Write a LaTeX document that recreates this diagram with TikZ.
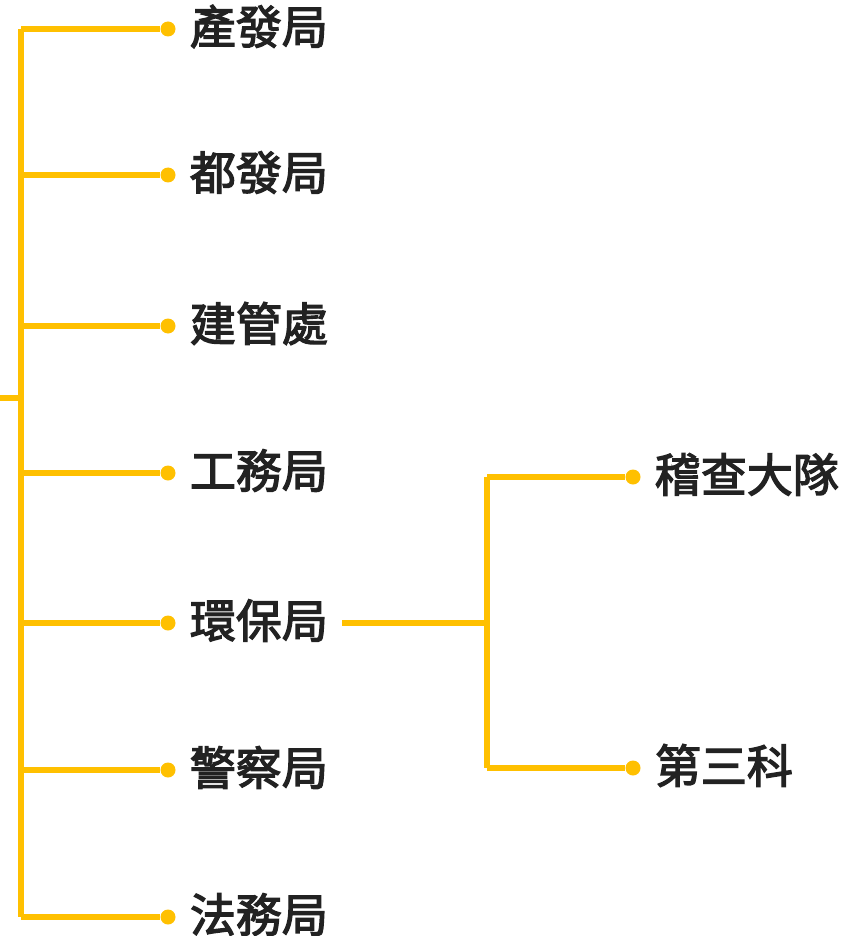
\documentclass[tikz,border=0pt]{standalone}
\usepackage{fontspec}
\newfontfamily\cjk{Noto Sans CJK TC}[FakeBold=2.8]
\usetikzlibrary{positioning}

\definecolor{linkyellow}{HTML}{FFC000}
\definecolor{labelgray}{HTML}{222222}

\begin{document}
\begin{tikzpicture}[
    x=1pt, y=-1pt,
    link/.style={draw=linkyellow, line width=5.5pt},
    dot/.style={circle, fill=linkyellow, minimum size=15pt, inner sep=0pt},
    lbl/.style={inner ysep=0pt, inner xsep=14pt, yshift=2.5pt, text=labelgray, font=\cjk\fontsize{46}{46}\selectfont}
]
    \useasboundingbox (0,0) rectangle (866,936);

    % spine
    \coordinate (root) at (0,398);
    \coordinate (top) at (21,29);
    \coordinate (bot) at (21,917);
    \draw [link] (top) -- (bot);
    \draw [link] (root) -- (21,398);

    % first tier
    \foreach \name/\txt/\y in {cf/產發局/29, df/都發局/175, jg/建管處/326, gw/工務局/473,
                               hb/環保局/623, jc/警察局/770, ff/法務局/917} {
        \coordinate (\name-b) at (21,\y);
        \node (\name-d) [dot] at (168,\y) {};
        \node (\name) [lbl, right=0pt of \name-d] {\txt};
        \draw [link] (\name-b) -- (\name-d);
    }

    % second tier
    \coordinate (fork) at (487,623);
    \coordinate (fork-t) at (487,477);
    \coordinate (fork-b) at (487,768);
    \draw [link] (hb.east |- fork) -- (fork);
    \draw [link] (fork-t) -- (fork-b);
    \node (jcd-d) [dot] at (633,477) {};
    \node (sk-d) [dot] at (633,768) {};
    \node (jcd) [lbl, right=0pt of jcd-d] {稽查大隊};
    \node (sk) [lbl, right=0pt of sk-d] {第三科};
    \draw [link] (fork-t) -- (jcd-d);
    \draw [link] (fork-b) -- (sk-d);
\end{tikzpicture}
\end{document}
